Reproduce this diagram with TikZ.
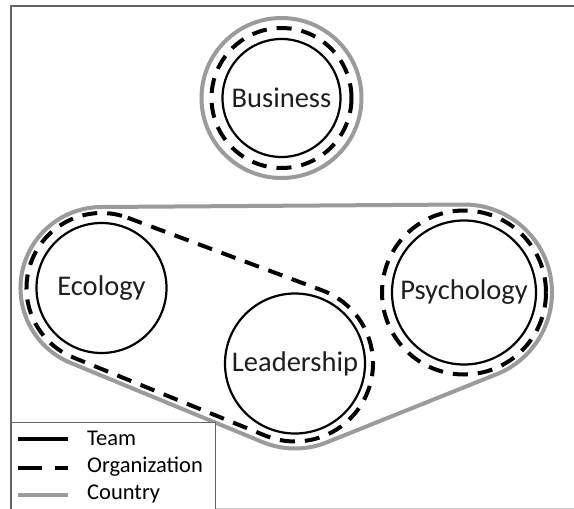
\documentclass[tikz,border=0pt]{standalone}
\usepackage{fontspec}
\setmainfont{Carlito}
\usetikzlibrary{calc}
\definecolor{countrygray}{RGB}{155,155,155}
\definecolor{framegray}{RGB}{100,100,100}
\definecolor{textgray}{RGB}{30,30,30}
\tikzset{
  field/.style={circle, draw=black, line width=2.2pt, inner sep=0pt,
    text=textgray, font=\fontsize{28.5}{30}\selectfont},
  orgline/.style={draw=black, line width=4pt, dash pattern=on 15pt off 10pt},
  countryline/.style={draw=countrygray, line width=4pt},
  teamline/.style={draw=black, line width=3.2pt},
  legendtext/.style={anchor=west, inner sep=0pt, text=black, font=\fontsize{22.5}{24}\selectfont},
  framestyle/.style={draw=framegray, line width=1.4pt}
}
\begin{document}
\begin{tikzpicture}[x=1pt, y=-1pt]
  \useasboundingbox (0,0) rectangle (574,509);
  \fill[white] (0,0) rectangle (574,509);

  % outer frame
  \draw[framestyle] (11,509) -- (11,6) -- (574,6);
  \draw[draw=black!20, line width=1pt] (11,508.5) -- (574,508.5);

  % centres of the fields
  \coordinate (Bc) at (281.5,98);
  \coordinate (E) at (101.5,288);
  \coordinate (L) at (295,363.5);
  \coordinate (P) at (464,292.5);

  % country: Business alone, and the hull of Ecology, Leadership and Psychology
  \draw[countryline] (Bc) circle[radius=80];
  \draw[countryline, line join=round]
    ($(E)+(269.6:81)$) -- ($(P)+(-90.4:88)$)
    arc[start angle=-90.4, end angle=68.15, radius=88]
    -- ($(L)+(68.15:85)$)
    arc[start angle=68.15, end angle=112.41, radius=85]
    -- ($(E)+(112.41:81)$)
    arc[start angle=112.41, end angle=269.6, radius=81] -- cycle;

  % organization: Business, Psychology, and the hull of Ecology and Leadership
  \draw[orgline] (Bc) circle[radius=70];
  \draw[orgline] (P) circle[radius=82];
  \draw[orgline]
    ($(E)+(-69.52:75)$) -- ($(L)+(-69.52:78)$)
    arc[start angle=-69.52, end angle=112.14, radius=78]
    -- ($(E)+(112.14:75)$)
    arc[start angle=112.14, end angle=290.48, radius=75] -- cycle;

  % teams
  \node[field, minimum size=118pt] (business) at (Bc) {Business};
  \node[field, minimum size=130pt] (ecology) at (E) {Ecology};
  \node[field, minimum size=140pt] (leadership) at (L) {Leadership};
  \node[field, minimum size=144pt] (psychology) at (P) {Psychology};

  % legend
  \draw[draw=framegray, line width=1pt, fill=white] (11,509) -- (11,422) -- (215,422) -- (215,509);
  \coordinate (t1) at (18,439);  \coordinate (t2) at (68,439);
  \coordinate (o1) at (18,468);  \coordinate (o2) at (68,468);
  \coordinate (c1) at (18,495);  \coordinate (c2) at (68,495);
  \draw[teamline] (t1) -- (t2);
  \draw[draw=black, line width=4.5pt, dash pattern=on 24pt off 13pt] (o1) -- (o2);
  \draw[countryline, line width=4.5pt] (c1) -- (c2);
  \node[legendtext] (lteam) at (87,438) {Team};
  \node[legendtext] (lorg) at (87,467) {Organization};
  \node[legendtext] (lcountry) at (87,494) {Country};
\end{tikzpicture}
\end{document}
